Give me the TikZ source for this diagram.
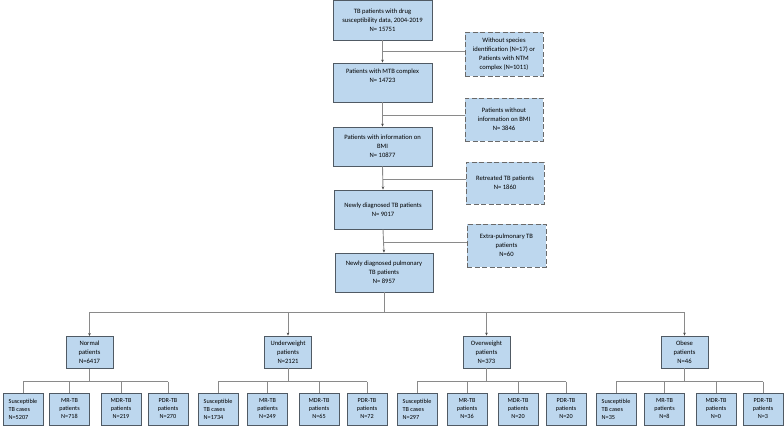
\documentclass[tikz,border=0pt]{standalone}
\usepackage{fontspec}
\setmainfont{Carlito}
\usetikzlibrary{arrows.meta}
\definecolor{boxfill}{HTML}{BDD7EE}
\definecolor{boxline}{HTML}{505A64}
\definecolor{dashline}{HTML}{6A6A6A}
\definecolor{conn}{HTML}{8A8A8A}
\definecolor{conndark}{HTML}{4A4A4A}
\tikzset{
  box/.style={draw=boxline, fill=boxfill, line width=0.9pt, align=center,
    inner sep=1pt, font=\fontsize{6.6}{9}\selectfont},
  sidebox/.style={box, draw=dashline, dash pattern=on 5pt off 2.5pt, line width=1pt},
  lvl/.style={box, minimum width=47pt, minimum height=32pt},
  leaf/.style={box, minimum width=40pt, minimum height=32pt, font=\fontsize{6.2}{8}\selectfont},
  link/.style={draw=conn, line width=0.9pt},
  arr/.style={link, -{Stealth[length=3pt,width=2.6pt,color=conndark]}},
}
\begin{document}
\begin{tikzpicture}[x=1pt,y=-1pt]
\useasboundingbox (0,0) rectangle (784,426);
% main column
\node[box, minimum width=99pt, minimum height=39.5pt] (b1) at (382.5,20.2) {TB patients with drug\\susceptibility data, 2004-2019\\N= 15751};
\node[box, minimum width=99pt, minimum height=39pt] (b2) at (382.5,82.5) {Patients with MTB complex\\N= 14723\\[4pt]};
\node[box, minimum width=99pt, minimum height=39pt] (b3) at (382.5,146.5) {Patients with information on\\BMI\\N= 10877};
\node[box, minimum width=98pt, minimum height=39pt] (b4) at (383,209.5) {Newly diagnosed TB patients\\N= 9017};
\node[box, minimum width=98pt, minimum height=39pt] (b5) at (384,272.5) {Newly diagnosed pulmonary\\TB patients\\N= 8957};
% side boxes
\node[sidebox, minimum width=78pt, minimum height=44pt] (s1) at (504,54) {Without species\\identification (N=17) or\\Patients with NTM\\complex (N=1011)};
\node[sidebox, minimum width=78pt, minimum height=43pt] (s2) at (504,119.5) {Patients without\\information on BMI\\N= 3846};
\node[sidebox, minimum width=78pt, minimum height=42pt] (s3) at (505,183) {Retreated TB patients\\N= 1860};
\node[sidebox, minimum width=79pt, minimum height=43pt] (s4) at (506.5,245.5) {Extra-pulmonary TB\\patients\\N=60};
% main connectors
\draw[arr] (b1.south) -- (b2.north);
\draw[arr] (b2.south) -- (b3.north);
\draw[arr] (b3.south) -- (b4.north);
\draw[arr] (b4.south) -- (b5.north);
\coordinate (j1) at (382.5,51);
\coordinate (j2) at (382.5,115);
\coordinate (j3) at (382.5,179);
\coordinate (j4) at (383,242);
\draw[link] (j1) -- (j1 -| s1.west);
\draw[link] (j2) -- (j2 -| s2.west);
\draw[link] (j3) -- (j3 -| s3.west);
\draw[link] (j4) -- (j4 -| s4.west);
% level 2
\node[lvl] (n1) at (89.5,352.5) {Normal\\patients\\N=6417};
\node[lvl] (n2) at (288,352) {Underweight\\patients\\N=2121};
\node[lvl] (n3) at (486.5,352) {Overweight\\patients\\N=373};
\node[lvl] (n4) at (684.5,352) {Obese\\patients\\N=46};
\coordinate (h0) at (b5.south |- 0,312);
\draw[link] (b5.south) -- (h0);
\draw[link] (n1.north |- h0) -- (n4.north |- h0);
\foreach \n in {n1,n2,n3,n4} \draw[arr] (\n.north |- h0) -- (\n.north);
% leaves
\node[leaf, align=left] (a1) at (23,409) {Susceptible\\TB cases\\N=5207};
\node[leaf] (a2) at (69.5,409) {MR-TB\\patients\\N=718};
\node[leaf] (a3) at (121,409) {MDR-TB\\patients\\N=219};
\node[leaf] (a4) at (168,409) {PDR-TB\\patients\\N=270};
\node[leaf, align=left] (c1) at (218,409) {Susceptible\\TB cases\\N=1734};
\node[leaf] (c2) at (267.5,409) {MR-TB\\patients\\N=249};
\node[leaf] (c3) at (319,409) {MDR-TB\\patients\\N=65};
\node[leaf] (c4) at (367,409) {PDR-TB\\patients\\N=72};
\node[leaf, align=left] (d1) at (417,409) {Susceptible\\TB cases\\N=297};
\node[leaf] (d2) at (467,409) {MR-TB\\patients\\N=36};
\node[leaf] (d3) at (518,409) {MDR-TB\\patients\\N=20};
\node[leaf] (d4) at (566,409) {PDR-TB\\patients\\N=20};
\node[leaf, align=left] (e1) at (616,409) {Susceptible\\TB cases\\N=35};
\node[leaf] (e2) at (664.5,409) {MR-TB\\patients\\N=8};
\node[leaf] (e3) at (716,409) {MDR-TB\\patients\\N=0};
\node[leaf] (e4) at (763,409) {PDR-TB\\patients\\N=3};
\foreach \p/\l in {n1/a, n2/c, n3/d, n4/e} {
  \coordinate (\p h) at (\p.south |- 0,381.5);
  \draw[link] (\p.south) -- (\p h);
  \draw[link] (\l1.north |- \p h) -- (\l4.north |- \p h);
  \foreach \i in {1,2,3,4} \draw[link] (\l\i.north |- \p h) -- (\l\i.north);
}
\end{tikzpicture}
\end{document}
